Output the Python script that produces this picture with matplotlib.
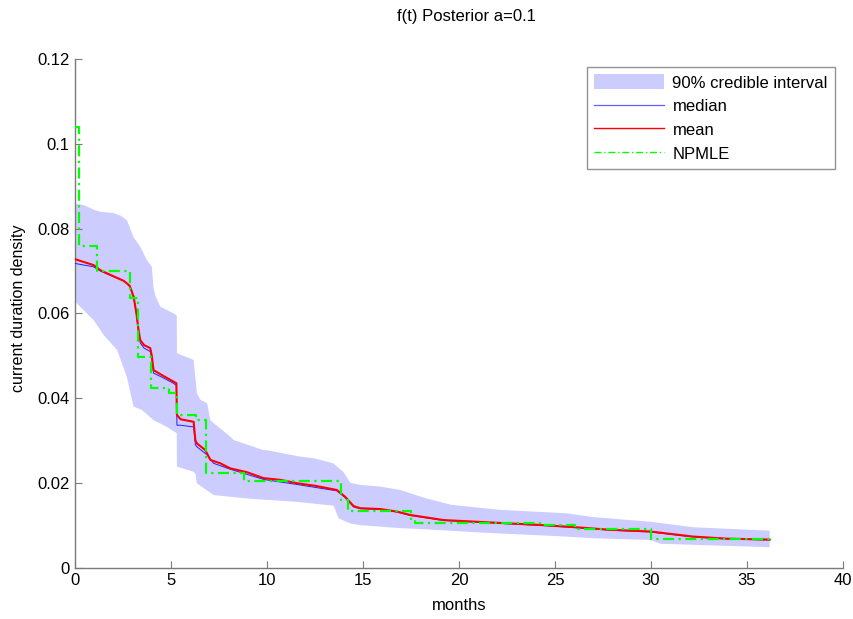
import numpy as np
import matplotlib
matplotlib.use("Agg")
import matplotlib.pyplot as plt
from matplotlib.patches import Patch
from matplotlib.lines import Line2D

plt.rcParams['font.family'] = ['Liberation Sans', 'DejaVu Sans']

# ---- data ----
mean_x = [0, 0.97, 1.32, 1.84, 2.53, 2.7, 2.85, 3.05, 3.2, 3.31, 3.40, 3.6, 3.92, 4.0, 4.09,
          4.5, 5.13, 5.28, 5.31, 5.5, 6.18, 6.27, 6.35, 6.79, 7.05, 7.57, 8.09, 8.96, 9.82,
          10.7, 11.56, 12.5, 13.64, 14.07, 14.51, 14.86, 15.9, 16.77, 17.46, 19.2, 21.8,
          24.4, 26.1, 27.9, 29.96, 32.2, 34.0, 36.18]
mean_y = [0.0728, 0.0714, 0.0702, 0.0691, 0.0677, 0.0671, 0.0665, 0.0640, 0.0600, 0.0561,
          0.0537, 0.0525, 0.0518, 0.0500, 0.0466, 0.0455, 0.0439, 0.0435, 0.0360, 0.0350,
          0.0344, 0.0300, 0.0293, 0.0277, 0.0254, 0.0246, 0.0234, 0.0225, 0.0211, 0.0207,
          0.0199, 0.0193, 0.0183, 0.0167, 0.0145, 0.0140, 0.0138, 0.0132, 0.0124, 0.0112,
          0.0106, 0.0100, 0.0095, 0.0089, 0.0085, 0.0073, 0.0068, 0.0066]

median_x = [0, 0.97, 1.32, 1.84, 2.53, 2.7, 2.85, 3.05, 3.2, 3.31, 3.40, 3.6, 3.92, 4.0, 4.09,
            4.5, 5.13, 5.28, 5.31, 5.49, 6.18, 6.27, 6.35, 6.88, 7.22, 8.09, 9.82, 11.56,
            13.64, 14.07, 14.51, 14.86, 15.9, 16.77, 17.46, 19.2, 21.8, 24.4, 26.1, 27.9,
            29.96, 32.2, 34.0, 36.18]
median_y = [0.0718, 0.0710, 0.0700, 0.0690, 0.0677, 0.0671, 0.0663, 0.0638, 0.0598, 0.0556,
            0.0530, 0.0518, 0.0510, 0.0495, 0.0459, 0.0450, 0.0435, 0.0430, 0.0336, 0.0336,
            0.0332, 0.0290, 0.0285, 0.0266, 0.0246, 0.0232, 0.0208, 0.0196, 0.0181, 0.0165,
            0.0143, 0.0139, 0.0137, 0.0131, 0.0123, 0.0111, 0.0105, 0.0099, 0.0094, 0.0088,
            0.0084, 0.0072, 0.0067, 0.0065]

npmle_x = [0, 0.2, 1.15, 2.88, 3.3, 3.95, 4.9, 5.31, 6.3, 6.8, 8.8, 13.85, 14.2, 17.5,
           17.7, 24.2, 26.05, 30.0, 36.18]
npmle_y = [0.104, 0.076, 0.070, 0.0636, 0.0498, 0.0423, 0.0411, 0.036, 0.0348, 0.0222,
           0.0205, 0.0160, 0.0134, 0.0112, 0.0106, 0.0100, 0.0090, 0.0067, 0.0067]

upper_x = [0, 0.5, 0.97, 1.32, 2.0, 2.4, 2.7, 3.05, 3.4, 3.75, 4.0, 4.09, 4.2, 4.44, 5.13,
           5.3, 5.31, 6.18, 6.35, 6.53, 6.88, 7.05, 7.22, 8.09, 8.26, 9.82, 10.0, 11.7,
           12.43, 13.45, 13.99, 14.34, 14.86, 15.9, 16.94, 18.3, 19.6, 22.15, 25.6, 27.0,
           29.96, 32.2, 36.18]
upper_y = [0.0860, 0.0855, 0.0845, 0.0840, 0.0837, 0.0830, 0.0820, 0.0780, 0.0757, 0.0726,
           0.0710, 0.0660, 0.0640, 0.0616, 0.0600, 0.0595, 0.0506, 0.0490, 0.0411, 0.0396,
           0.0388, 0.0348, 0.0341, 0.0309, 0.0301, 0.0277, 0.0277, 0.0262, 0.0258, 0.0246,
           0.0225, 0.0200, 0.0195, 0.0191, 0.0183, 0.0163, 0.0148, 0.0136, 0.0128, 0.0119,
           0.0108, 0.0095, 0.0087]

lower_x = [0, 0.97, 1.32, 1.49, 2.19, 2.7, 3.05, 3.49, 4.09, 4.79, 5.3, 5.31, 6.18, 6.27,
           6.35, 7.22, 8.96, 11.56, 13.47, 13.73, 14.34, 14.86, 16.94, 18.3, 21.8, 25.2,
           27.0, 29.96, 30.5, 36.18]
lower_y = [0.0628, 0.0584, 0.0561, 0.0549, 0.0514, 0.0450, 0.0380, 0.0372, 0.0348, 0.0332,
           0.0317, 0.0238, 0.0226, 0.0222, 0.0199, 0.0171, 0.0163, 0.0155, 0.0146, 0.0116,
           0.0104, 0.0100, 0.0093, 0.0090, 0.0081, 0.0074, 0.0069, 0.0065, 0.0056, 0.0048]

legend_labels = ["90% credible interval", "median", "mean", "NPMLE"]
xticks = [0, 5, 10, 15, 20, 25, 30, 35, 40]
yticks = [0, 0.02, 0.04, 0.06, 0.08, 0.1, 0.12]
ytick_labels = ["0", "0.02", "0.04", "0.06", "0.08", "0.1", "0.12"]

# ---- figure ----
fig = plt.figure(figsize=(8.54, 6.19), dpi=100)
ax = fig.add_axes([75 / 854, 1 - 567.5 / 619, 768 / 854, (567.5 - 59.3) / 619])

band_color = '#ccccff'
ax.fill(np.r_[upper_x, lower_x[::-1]], np.r_[upper_y, lower_y[::-1]],
        color=band_color, lw=0, zorder=1)
ax.plot(median_x, median_y, color='#2020ff', lw=0.7, zorder=3)
ax.plot(mean_x, mean_y, color='#ff0000', lw=1.5, zorder=4)
ax.step(npmle_x, npmle_y, where='post', color='#00ff00', lw=1.6,
        linestyle=(0, (5, 2, 1, 2)), zorder=5)

ax.set_xlim(0, 40)
ax.set_ylim(0, 0.12)
ax.set_xticks(xticks)
ax.set_xticklabels([str(t) for t in xticks])
ax.set_yticks(yticks)
ax.set_yticklabels(ytick_labels)

axis_col = '#7a7a7a'
for s in ['top', 'right']:
    ax.spines[s].set_visible(False)
for s in ['left', 'bottom']:
    ax.spines[s].set_color(axis_col)
    ax.spines[s].set_linewidth(1.0)
ax.tick_params(direction='in', length=5, width=0.8, color=axis_col,
               labelsize=12, labelcolor='black', pad=4)

handles = [Patch(facecolor=band_color, edgecolor='none'),
           Line2D([], [], color='#6060ff', lw=0.9),
           Line2D([], [], color='#ff0000', lw=1.0),
           Line2D([], [], color='#00ff00', lw=1.0, linestyle=(0, (5, 2, 1, 2)))]
leg = ax.legend(handles, legend_labels, loc='upper right', bbox_to_anchor=(0.99, 0.985),
                borderaxespad=0, fontsize=12, frameon=True, fancybox=False,
                handlelength=4.2, handleheight=1.0, labelspacing=0.45, borderpad=0.45,
                handletextpad=0.5)
leg.get_frame().set_edgecolor(axis_col)
leg.get_frame().set_linewidth(1.0)

fig.text(466 / 854, 1 - 17 / 619, "f(t) Posterior a=0.1", ha='center', va='center', fontsize=12)
fig.text(459 / 854, 1 - 605 / 619, "months", ha='center', va='center', fontsize=12)
fig.text(19 / 854, 1 - 308 / 619, "current duration density", ha='center', va='center',
         rotation=90, fontsize=11.5)

fig.savefig("out.png", dpi=100)
